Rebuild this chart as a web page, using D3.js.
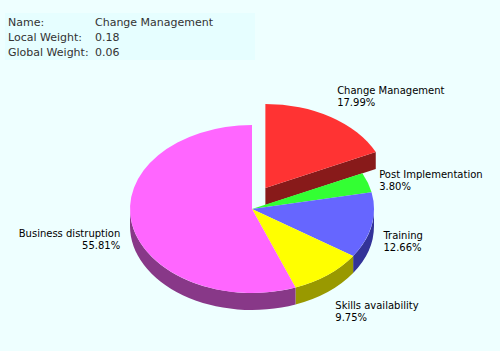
<!DOCTYPE html>
<html>
<head>
<meta charset="utf-8">
<script src="https://cdn.jsdelivr.net/npm/d3@7"></script>
<style>
  body { margin: 0; background: #eeffff; }
  text { font-family: "DejaVu Sans", Verdana, sans-serif; }
</style>
</head>
<body>
<div id="chart"></div>
<script>
// slice data, clockwise from 12 o'clock
let categories = ["Change Management", "Post Implementation", "Training", "Skills availability", "Business distruption"]
let shares = [17.99, 3.80, 12.66, 9.75, 55.81]
let topColors = ["#ff3333", "#33ff33", "#6666ff", "#ffff00", "#ff66ff"]
let sideColors = ["#881a1a", "#1a881a", "#333399", "#999900", "#883888"]
let exploded = ["Change Management"]

let infoLabels = ["Name:", "Local Weight:", "Global Weight:"]
let infoValues = ["Change Management", "0.18", "0.06"]

let width = 500,
    height = 351

let svg = d3.select("#chart").append("svg")
    .attr("width", width)
    .attr("height", height)

svg.append("rect")
    .attr("width", width)
    .attr("height", height)
    .attr("fill", "#eeffff")

// info box
svg.append("rect")
    .attr("x", 5).attr("y", 13)
    .attr("width", 250).attr("height", 47)
    .attr("fill", "#e6feff")

infoLabels.forEach((l, i) => {
    svg.append("text").attr("x", 8).attr("y", 26 + i * 15)
        .attr("font-size", 11).attr("fill", "#333")
        .text(l)
    svg.append("text").attr("x", 95).attr("y", 26 + i * 15)
        .attr("font-size", 11).attr("fill", "#333")
        .text(infoValues[i])
})

// pie geometry
let cx = 252, cy = 209, rx = 122, ry = 84, depth = 17, explodeDist = 25

let xs = d3.scaleLinear().domain([-1, 1]).range([cx - rx, cx + rx])
let ys = d3.scaleLinear().domain([-1, 1]).range([cy - ry, cy + ry])

let data = categories.map((c, i) => ({name: c, value: shares[i], top: topColors[i], side: sideColors[i]}))
let arcs = d3.pie().sort(null).value(d => d.value).startAngle(0).endAngle(2 * Math.PI)(data)

arcs.forEach(a => {
    let mid = (a.startAngle + a.endAngle) / 2
    let isOut = exploded.includes(a.data.name)
    a.dx = isOut ? explodeDist * Math.sin(mid) : 0
    a.dy = isOut ? -explodeDist * Math.cos(mid) : 0
    a.mid = mid
    a.out = isOut
})

let pt = (a, t, dz) => [xs(Math.sin(t)) + a.dx, ys(-Math.cos(t)) + a.dy + (dz || 0)]

function topPath(a) {
    let p0 = pt(a, a.startAngle), p1 = pt(a, a.endAngle)
    let large = a.endAngle - a.startAngle > Math.PI ? 1 : 0
    return `M ${cx + a.dx} ${cy + a.dy} L ${p0} A ${rx} ${ry} 0 ${large} 1 ${p1} Z`
}

function sidePath(a) {
    let s = Math.max(a.startAngle, Math.PI / 2), e = Math.min(a.endAngle, 3 * Math.PI / 2)
    if (e <= s) return null
    let p0 = pt(a, s), p1 = pt(a, e), q1 = pt(a, e, depth), q0 = pt(a, s, depth)
    return `M ${p0} A ${rx} ${ry} 0 0 1 ${p1} L ${q1} A ${rx} ${ry} 0 0 0 ${q0} Z`
}

function facePath(a) {
    let p = pt(a, a.endAngle), q = pt(a, a.endAngle, depth)
    return `M ${cx + a.dx} ${cy + a.dy} L ${p} L ${q} L ${cx + a.dx} ${cy + a.dy + depth} Z`
}

let outArcs = arcs.filter(a => a.out),
    inArcs = arcs.filter(a => !a.out)

// exploded slice first (it sits behind)
outArcs.forEach(a => {
    svg.append("path").attr("d", facePath(a)).attr("fill", a.data.side)
    let sp = sidePath(a)
    if (sp) svg.append("path").attr("d", sp).attr("fill", a.data.side)
    svg.append("path").attr("d", topPath(a)).attr("fill", a.data.top)
})

inArcs.forEach(a => {
    let sp = sidePath(a)
    if (sp) svg.append("path").attr("d", sp).attr("fill", a.data.side)
})
inArcs.forEach(a => {
    svg.append("path").attr("d", topPath(a)).attr("fill", a.data.top)
})

// labels
let lx = 134, ly = 119
arcs.forEach(a => {
    let x = cx + a.dx + lx * Math.sin(a.mid)
    let yc = cy + a.dy + depth / 2 - ly * Math.cos(a.mid)
    let anchor = Math.sin(a.mid) < 0 ? "end" : "start"
    let t = svg.append("text")
        .attr("text-anchor", anchor)
        .attr("font-size", 10)
        .attr("fill", "#000")
    t.append("tspan").attr("x", x).attr("y", yc - 2).text(a.data.name)
    t.append("tspan").attr("x", x).attr("y", yc + 10).text(d3.format(".2f")(a.data.value) + "%")
})
</script>
</body>
</html>
